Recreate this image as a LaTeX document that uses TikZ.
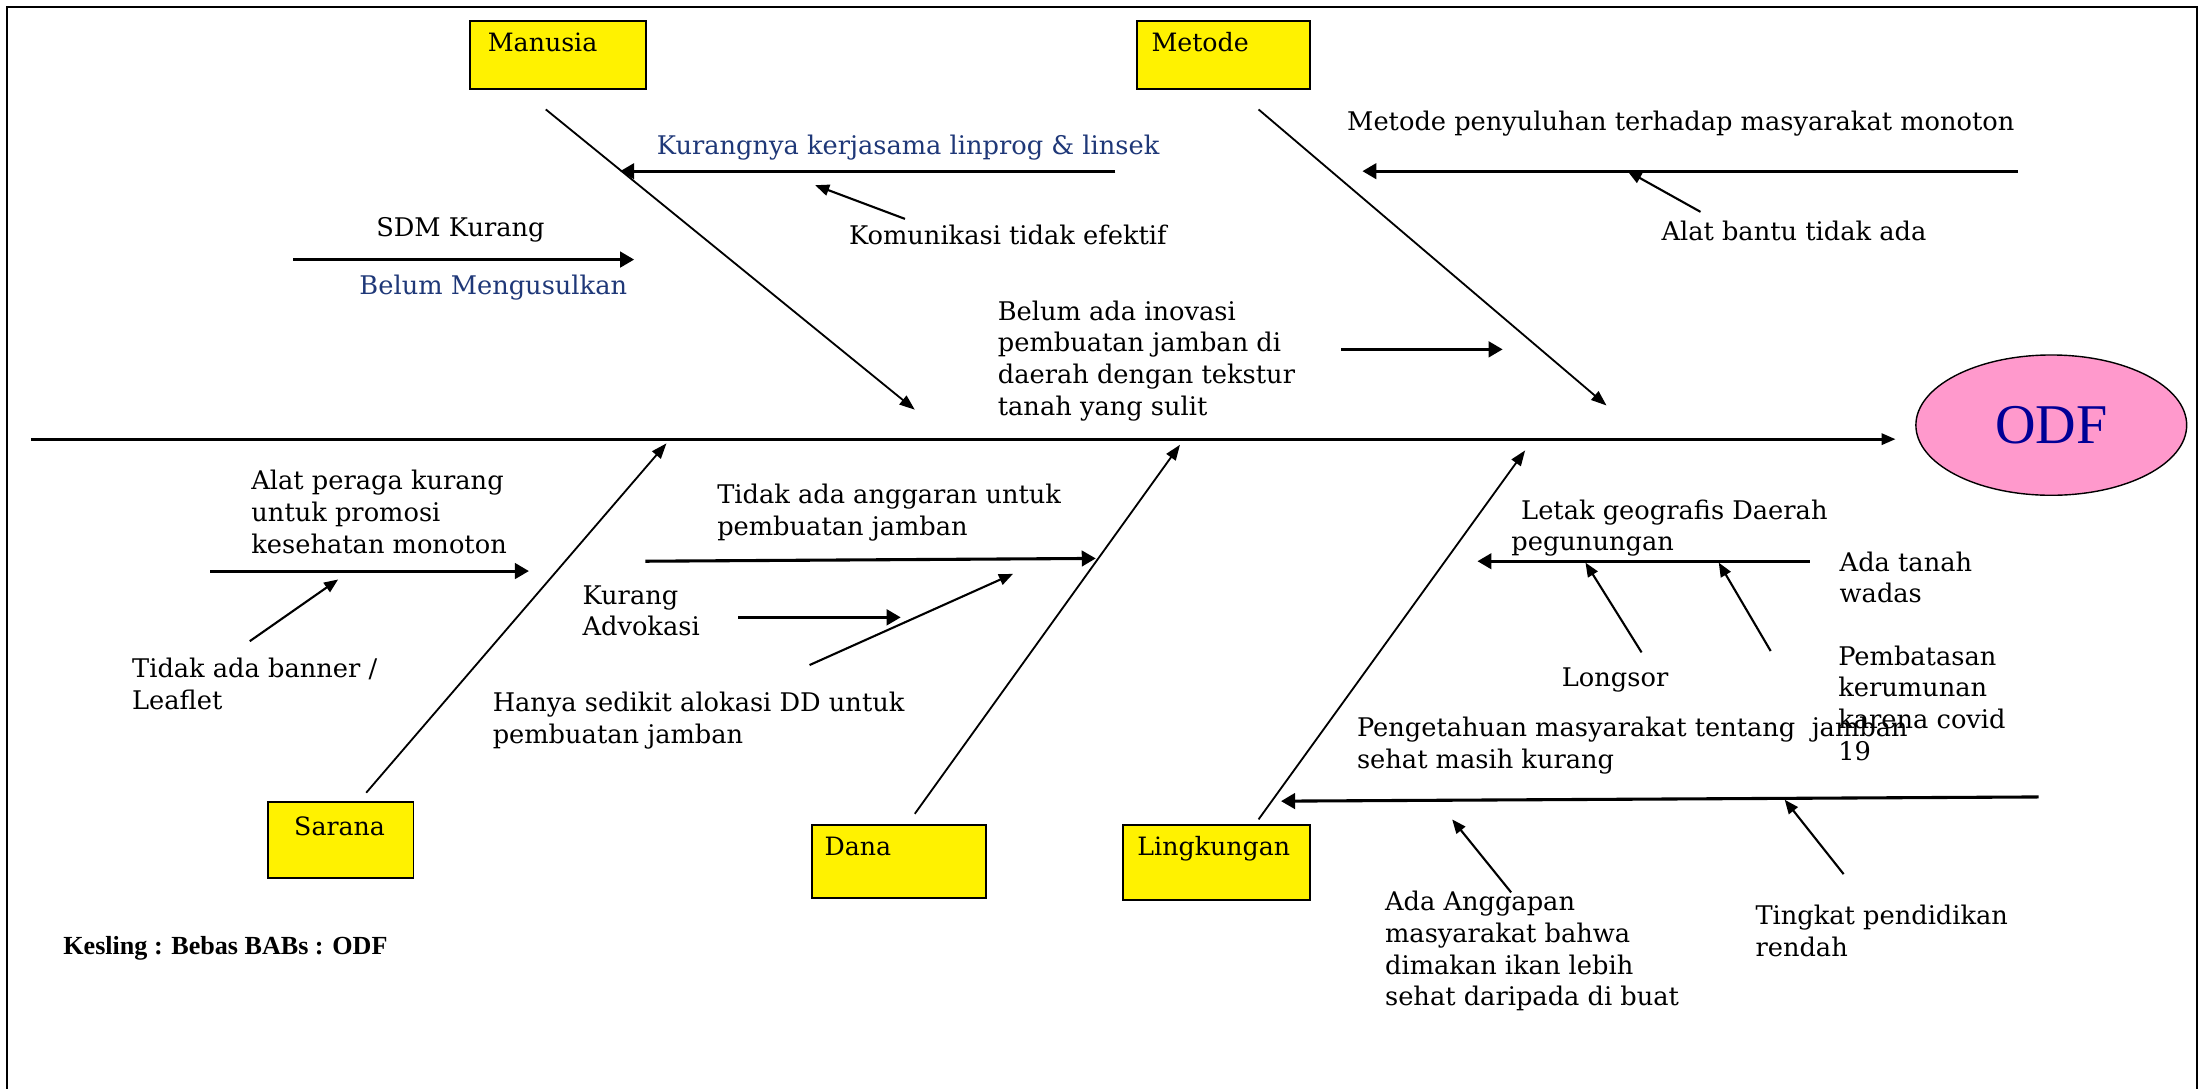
\documentclass[tikz,border=0pt]{standalone}
\usepackage{fontspec}
\setmainfont{DejaVu Serif}
\newfontfamily\timesf{Liberation Serif}
\usetikzlibrary{arrows.meta,shapes.geometric}
\definecolor{navy}{RGB}{31,56,120}
\definecolor{odfblue}{RGB}{0,0,150}
\definecolor{odfpink}{RGB}{255,153,204}
\begin{document}
\begin{tikzpicture}[x=1pt,y=-1pt,
  txt/.style={inner sep=0pt, anchor=north west, align=left, font=\fontsize{18.3}{22.6}\selectfont},
  ybox/.style={draw, line width=1.4pt, fill=yellow, anchor=north west, align=left, inner ysep=4pt, font=\fontsize{18}{22.5}\selectfont},
  spine/.style={line width=2pt, -{Triangle[length=10pt,width=8pt]}},
  bone/.style={line width=1.3pt, -{Triangle[length=11pt,width=8pt]}},
  sub/.style={line width=2.2pt, -{Triangle[length=10pt,width=11pt]}},
  thin/.style={line width=1.5pt, -{Triangle[length=10pt,width=8pt]}}]
\useasboundingbox (0,0) rectangle (1568,776);
% frame
\draw[line width=1.5pt] (5,800) -- (5,5) -- (1566,5) -- (1566,800);

% category boxes
\node[ybox, inner xsep=13pt, text width=100pt, text height=18pt, text depth=23pt] (manusia) at (334,14) {Manusia};
\node[ybox, inner xsep=10pt, text width=103pt, text height=18pt, text depth=23pt] (metode) at (810,14) {Metode};
\node[ybox, inner xsep=19pt, text width=66pt, text height=20pt, text depth=26pt] (sarana) at (190,571) {Sarana};
\node[ybox, inner xsep=9pt, text width=106pt, text height=18pt, text depth=26pt] (dana) at (578,587) {Dana};
\node[ybox, inner xsep=10pt, text width=113pt, text height=18pt, text depth=28pt] (lingkungan) at (800,587) {Lingkungan};

% effect
\node[ellipse, draw, line width=1pt, fill=odfpink, minimum width=193pt, minimum height=100pt,
      font=\timesf\fontsize{40}{44}\selectfont, text=odfblue] (odf) at (1462,303) {ODF};

% spine
\coordinate (s0) at (22,313);
\coordinate (s1) at (1351,313);
\draw[spine] (s0) -- (s1);

% bones
\coordinate (b1a) at (389,78);  \coordinate (b1b) at (652,292);
\coordinate (b2a) at (897,78);  \coordinate (b2b) at (1145,289);
\coordinate (b3a) at (261,565); \coordinate (b3b) at (475,316);
\coordinate (b4a) at (652,580); \coordinate (b4b) at (841,317);
\coordinate (b5a) at (897,584); \coordinate (b5b) at (1087,321);
\draw[bone] (b1a) -- (b1b);
\draw[bone] (b2a) -- (b2b);
\draw[bone] (b3a) -- (b3b);
\draw[bone] (b4a) -- (b4b);
\draw[bone] (b5a) -- (b5b);

% texts
\node[txt, text=navy] (t1) at (468,96) {Kurangnya kerjasama linprog \& linsek};
\node[txt] (t2) at (605,160) {Komunikasi tidak efektif};
\node[txt] (t3) at (268,155) {SDM Kurang};
\node[txt, text=navy] (t4) at (256,196) {Belum Mengusulkan};
\node[txt] (t5) at (960,79) {Metode penyuluhan terhadap masyarakat monoton};
\node[txt] (t6) at (1184,157) {Alat bantu tidak ada};
\node[txt] (t7) at (711,214) {Belum ada inovasi\\pembuatan jamban di\\daerah dengan tekstur\\tanah yang sulit};
\node[txt] (t8) at (179,335) {Alat peraga kurang\\untuk promosi\\kesehatan monoton};
\node[txt] (t9) at (94,469) {Tidak ada banner /\\Leaflet};
\node[txt] (t10) at (511,345) {Tidak ada anggaran untuk\\pembuatan jamban};
\node[txt] (t11) at (415,417) {Kurang\\Advokasi};
\node[txt] (t12) at (351,493) {Hanya sedikit alokasi DD untuk\\pembuatan jamban};
\node[txt] (t13) at (1077,356) {\hspace*{7pt}Letak geografis Daerah\\pegunungan};
\node[txt] (t14) at (1311,393) {Ada tanah\\wadas};
\node[txt] (t15) at (1113,476) {Longsor};
\node[txt] (t16) at (1310,460) {Pembatasan\\kerumunan\\karena covid\\19};
\node[txt] (t17) at (967,511) {Pengetahuan masyarakat tentang\ \ jamban\\sehat masih kurang};
\node[txt] (t18) at (987,635) {Ada Anggapan\\masyarakat bahwa\\dimakan ikan lebih\\sehat daripada di buat};
\node[txt] (t19) at (1251,645) {Tingkat pendidikan\\rendah};
\node[txt, font=\timesf\bfseries\fontsize{18.6}{22}\selectfont] (t20) at (45,667) {Kesling : Bebas BABs : ODF};

% cause arrows
\coordinate (a1a) at (795,122);  \coordinate (a1b) at (442,122);
\coordinate (a2a) at (645,156);  \coordinate (a2b) at (581,132);
\coordinate (a3a) at (209,185);  \coordinate (a3b) at (452,185);
\coordinate (a4a) at (1438,122); \coordinate (a4b) at (971,122);
\coordinate (a5a) at (1212,151); \coordinate (a5b) at (1160,122);
\coordinate (a6a) at (956,249);  \coordinate (a6b) at (1071,249);
\coordinate (a7a) at (150,407);  \coordinate (a7b) at (377,407);
\coordinate (a8a) at (178,457);  \coordinate (a8b) at (241,413);
\coordinate (a9a) at (460,400);  \coordinate (a9b) at (781,398);
\coordinate (a10a) at (526,440); \coordinate (a10b) at (642,440);
\coordinate (a11a) at (577,474); \coordinate (a11b) at (722,409);
\coordinate (a12a) at (1290,400); \coordinate (a12b) at (1053,400);
\coordinate (a13a) at (1170,465); \coordinate (a13b) at (1130,401);
\coordinate (a14a) at (1262,464); \coordinate (a14b) at (1225,401);
\coordinate (a15a) at (1453,568); \coordinate (a15b) at (913,571);
\coordinate (a16a) at (1077,636); \coordinate (a16b) at (1035,584);
\coordinate (a17a) at (1314,623); \coordinate (a17b) at (1272,570);

\draw[sub] (a1a) -- (a1b);
\draw[thin] (a2a) -- (a2b);
\draw[sub] (a3a) -- (a3b);
\draw[sub] (a4a) -- (a4b);
\draw[thin] (a5a) -- (a5b);
\draw[sub] (a6a) -- (a6b);
\draw[sub] (a7a) -- (a7b);
\draw[thin] (a8a) -- (a8b);
\draw[sub] (a9a) -- (a9b);
\draw[sub] (a10a) -- (a10b);
\draw[thin] (a11a) -- (a11b);
\draw[sub] (a12a) -- (a12b);
\draw[thin] (a13a) -- (a13b);
\draw[thin] (a14a) -- (a14b);
\draw[sub] (a15a) -- (a15b);
\draw[thin] (a16a) -- (a16b);
\draw[thin] (a17a) -- (a17b);
\end{tikzpicture}
\end{document}
